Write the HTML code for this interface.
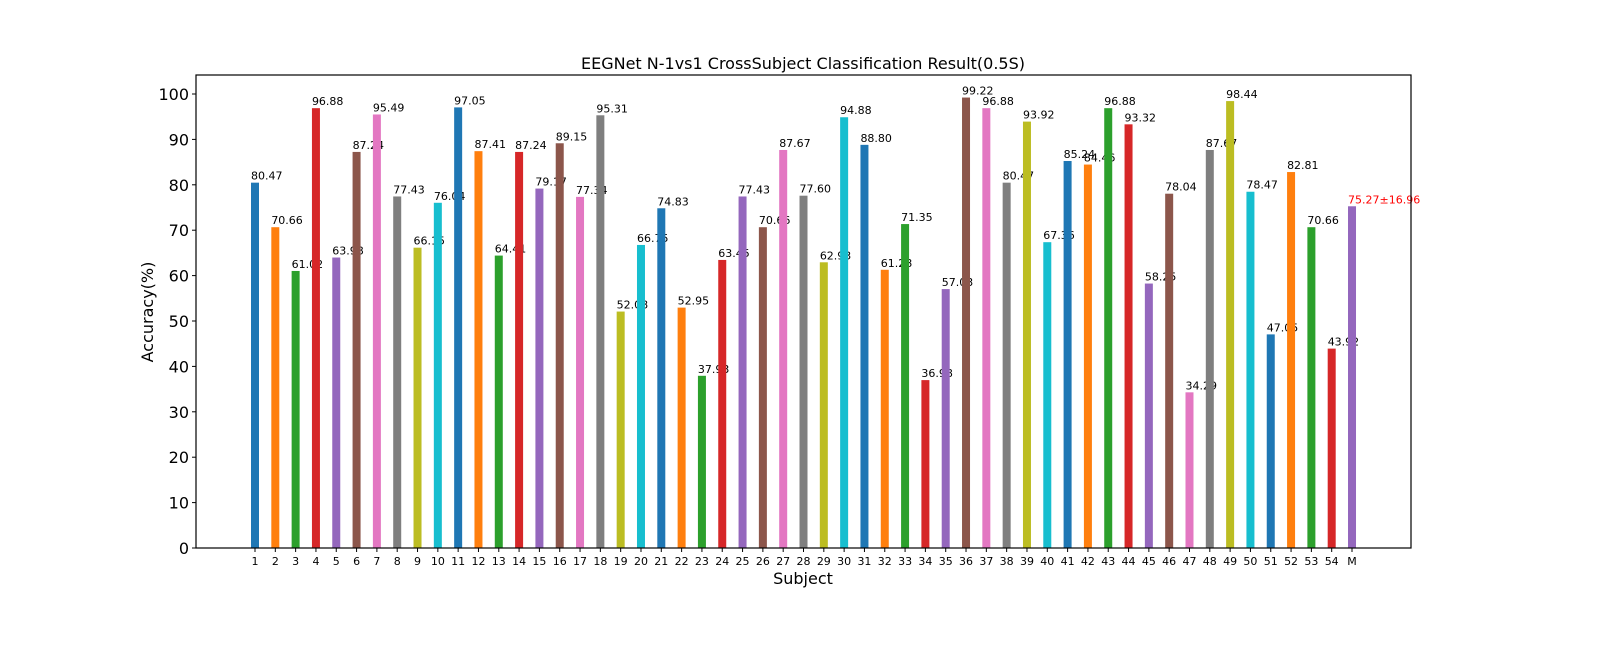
<!DOCTYPE html>
<html><head><meta charset="utf-8"><style>
body{margin:0;background:#fff;}
svg text{font-family:"DejaVu Sans","Liberation Sans",sans-serif;}
</style></head><body>
<svg id="chart" width="1600" height="640" xmlns="http://www.w3.org/2000/svg">
<text x="803" y="69" font-size="16" text-anchor="middle">EEGNet N-1vs1 CrossSubject Classification Result(0.5S)</text>
<text x="803" y="584" font-size="16" text-anchor="middle">Subject</text>
<text transform="translate(153,312) rotate(-90)" font-size="16" text-anchor="middle">Accuracy(%)</text>
<g id="bars"></g><g id="yticks"></g><g id="xticks"></g>
<rect x="196" y="75" width="1215" height="473" fill="none" stroke="#000" stroke-width="1.2"/>
</svg>
<script>
const categories=[];for(let i=1;i<=54;i++)categories.push(String(i));categories.push('M');
const values=[80.47,70.66,61.02,96.88,63.98,87.24,95.49,77.43,66.15,76.04,97.05,87.41,64.41,87.24,79.17,89.15,77.34,95.31,52.08,66.75,74.83,52.95,37.93,63.45,77.43,70.66,87.67,77.60,62.93,94.88,88.80,61.28,71.35,36.98,57.03,99.22,96.88,80.47,93.92,67.36,85.24,84.46,96.88,93.32,58.25,78.04,34.29,87.67,98.44,78.47,47.05,82.81,70.66,43.92,75.27];
const meanLabel='75.27±16.96';
const yTicks=[0,10,20,30,40,50,60,70,80,90,100];
const colors=['#1f77b4','#ff7f0e','#2ca02c','#d62728','#9467bd','#8c564b','#e377c2','#7f7f7f','#bcbd22','#17becf'];
const NS='http://www.w3.org/2000/svg';
const y=v=>548-v*4.54;
const x=i=>255+i*20.315;
function mk(t,a,p){const e=document.createElementNS(NS,t);for(const k in a)e.setAttribute(k,a[k]);p.appendChild(e);return e;}
const bars=document.getElementById('bars'),yt=document.getElementById('yticks'),xt=document.getElementById('xticks');
values.forEach((v,i)=>{
 const r=mk('rect',{x:x(i)-4,y:y(v),width:8,height:548-y(v),fill:colors[i%10]},bars);
 
 
 const isM=i===values.length-1;
 const t=mk('text',{x:x(i)-4,y:y(v)-3,'font-size':11,fill:isM?'red':'#000'},bars);
 t.textContent=isM?meanLabel:v.toFixed(2);
 
 
 mk('line',{x1:x(i),x2:x(i),y1:548,y2:552,stroke:'#000'},xt);
 const l=mk('text',{x:x(i),y:565,'font-size':11,'text-anchor':'middle'},xt);
 l.textContent=categories[i];
 
 
});
yTicks.forEach(v=>{
 mk('line',{x1:192,x2:196,y1:y(v),y2:y(v),stroke:'#000'},yt);
 const l=mk('text',{x:189,y:y(v)+6,'font-size':16,'text-anchor':'end'},yt);
 l.textContent=v;
 
 
});
</script>
</body></html>
